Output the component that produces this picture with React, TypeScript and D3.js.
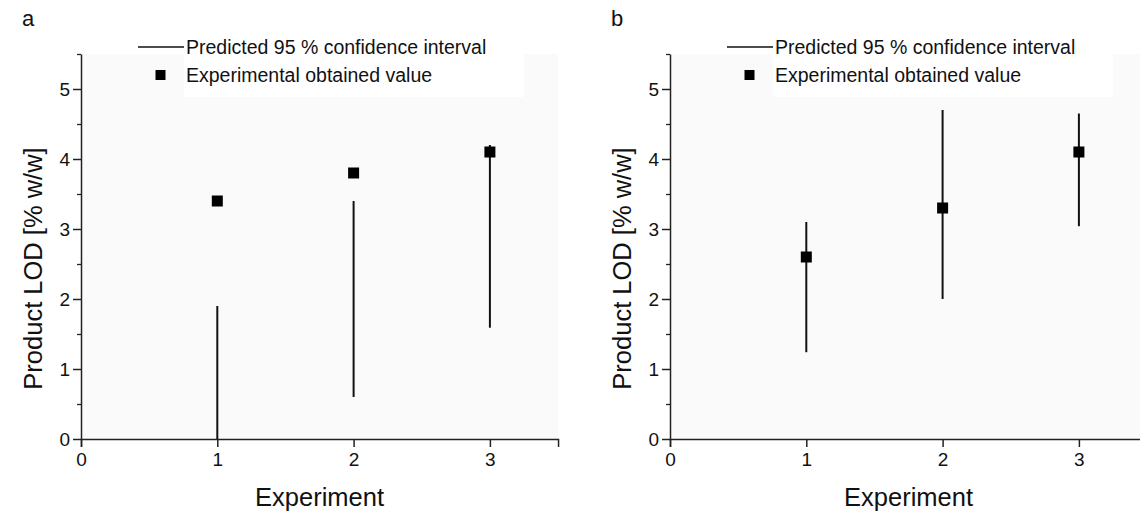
import React, { useEffect, useRef } from "react";
import * as d3 from "d3";

// experiment numbers and the two panels' values
const experiments = [1, 2, 3];
const lowA = [0, 0.6, 1.59];
const highA = [1.9, 3.4, 4.2];
const obsA = [3.4, 3.8, 4.1];
const lowB = [1.24, 2.0, 3.04];
const highB = [3.1, 4.7, 4.65];
const obsB = [2.6, 3.3, 4.1];
const xTicks = [0, 1, 2, 3];
const yTicks = [0, 1, 2, 3, 4, 5];
const yMinor = [0.5, 1.5, 2.5, 3.5, 4.5, 5.5];
const legendLabels = ["Predicted 95 % confidence interval", "Experimental obtained value"];

const W = 1140;
const H = 513;
const FONT = "'Liberation Sans', Arial, sans-serif";

type Panel = { tag: string; left: number; low: number[]; high: number[]; obs: number[] };

const panels: Panel[] = [
  { tag: "a", left: 81, low: lowA, high: highA, obs: obsA },
  { tag: "b", left: 670, low: lowB, high: highB, obs: obsB },
];

const drawPanel = (svg: d3.Selection<SVGSVGElement, unknown, null, undefined>, p: Panel) => {
  const top = 54;
  const bottom = 439;
  const x = d3.scaleLinear().domain([0, 3.5]).range([p.left, p.left + 3.5 * 136.3]);
  const y = d3.scaleLinear().domain([0, 5.5]).range([bottom, top]);
  const g = svg.append("g");

  g.append("rect")
    .attr("x", p.left)
    .attr("y", top)
    .attr("width", x(3.5) - p.left)
    .attr("height", bottom - top)
    .attr("fill", "#fafafa");

  // legend box
  const lx = p.left + 55;
  g.append("rect")
    .attr("x", lx + 48)
    .attr("y", 33)
    .attr("width", 340)
    .attr("height", 64)
    .attr("fill", "#ffffff");
  g.append("line")
    .attr("x1", lx + 2)
    .attr("x2", lx + 48)
    .attr("y1", 47)
    .attr("y2", 47)
    .attr("stroke", "#111")
    .attr("stroke-width", 1.6);
  g.append("rect")
    .attr("x", lx + 19.5)
    .attr("y", 70)
    .attr("width", 10)
    .attr("height", 10)
    .attr("fill", "#000");
  legendLabels.forEach((t, i) => {
    g.append("text")
      .attr("x", lx + 50)
      .attr("y", 47 + i * 28)
      .attr("dy", "0.36em")
      .attr("font-size", 19.5)
      .attr("font-family", FONT)
      .attr("fill", "#111")
      .text(t);
  });

  // axes
  g.append("g")
    .attr("transform", `translate(0,${bottom})`)
    .call(d3.axisBottom(x).tickValues(xTicks).tickSize(8).tickPadding(6).tickFormat(d3.format("d")))
    .call(a => a.select(".domain").attr("stroke", "#222").attr("stroke-width", 1.5))
    .call(a => a.selectAll(".tick line").attr("stroke", "#222").attr("stroke-width", 1.5))
    .call(a => a.selectAll("text").attr("font-size", 19).attr("font-family", FONT).attr("fill", "#111"));

  g.append("g")
    .attr("transform", `translate(${p.left},0)`)
    .call(d3.axisLeft(y).tickValues(yMinor).tickSize(4).tickFormat(() => ""))
    .call(a => a.select(".domain").remove())
    .call(a => a.selectAll(".tick line").attr("stroke", "#222").attr("stroke-width", 1.3));

  g.append("g")
    .attr("transform", `translate(${p.left},0)`)
    .call(d3.axisLeft(y).tickValues(yTicks).tickSize(8).tickSizeOuter(0).tickPadding(3).tickFormat(d3.format("d")))
    .call(a => a.select(".domain").attr("stroke", "#222").attr("stroke-width", 1.5))
    .call(a => a.selectAll(".tick line").attr("stroke", "#222").attr("stroke-width", 1.5))
    .call(a => a.selectAll("text").attr("font-size", 19).attr("font-family", FONT).attr("fill", "#111"));

  // intervals and observed values
  g.selectAll(".ci")
    .data(experiments)
    .enter().append("line")
    .attr("x1", d => x(d))
    .attr("x2", d => x(d))
    .attr("y1", (d, i) => y(p.low[i]))
    .attr("y2", (d, i) => y(p.high[i]))
    .attr("stroke", "#111")
    .attr("stroke-width", 2);

  g.selectAll(".obs")
    .data(experiments)
    .enter().append("rect")
    .attr("x", d => x(d) - 5.5)
    .attr("y", (d, i) => y(p.obs[i]) - 5.5)
    .attr("width", 11)
    .attr("height", 11)
    .attr("fill", "#000");

  // titles
  g.append("text")
    .attr("x", p.left - 59)
    .attr("y", 18)
    .attr("dy", "0.36em")
    .attr("font-size", 22)
    .attr("font-family", FONT)
    .attr("fill", "#111")
    .text(p.tag);
  g.append("text")
    .attr("transform", `translate(${p.left - 48},${(top + bottom) / 2 + 22}) rotate(-90)`)
    .attr("text-anchor", "middle")
    .attr("dy", "0.36em")
    .attr("font-size", 25.5)
    .attr("font-family", FONT)
    .attr("fill", "#111")
    .text("Product LOD [% w/w]");
  g.append("text")
    .attr("x", x(1.75))
    .attr("y", 497)
    .attr("text-anchor", "middle")
    .attr("dy", "0.36em")
    .attr("font-size", 25.5)
    .attr("font-family", FONT)
    .attr("fill", "#111")
    .text("Experiment");
};

export default function App() {
  const ref = useRef<SVGSVGElement>(null);
  useEffect(() => {
    if (!ref.current) return;
    const svg = d3.select(ref.current);
    svg.selectAll("*").remove();
    svg.append("rect").attr("width", W).attr("height", H).attr("fill", "#fff");
    panels.forEach(p => drawPanel(svg, p));
  }, []);
  return (
    <svg
      ref={ref}
      width={W}
      height={H}
      style={{ position: "absolute", left: 0, top: 0, display: "block" }}
    />
  );
}
